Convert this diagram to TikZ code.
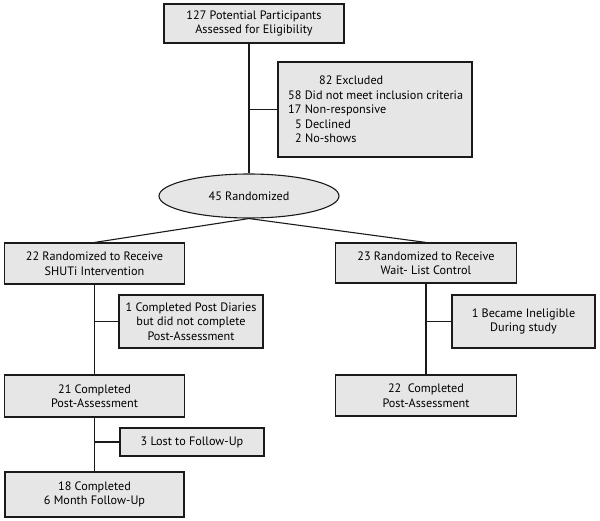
\documentclass[tikz,border=0pt]{standalone}
\usepackage{fontspec}
\setmainfont{PT Sans}
\usetikzlibrary{shapes.geometric}
\definecolor{boxfill}{HTML}{E6E6E6}
\definecolor{linec}{HTML}{1A1A1A}
\begin{document}
\begin{tikzpicture}[x=1pt,y=-1pt,
  every node/.style={font=\fontsize{12.2}{14.5}\selectfont, text=black},
  box/.style={draw=linec, line width=1.1pt, fill=boxfill, align=center, inner sep=0pt},
  conn/.style={draw=linec, line width=1.1pt}]
\useasboundingbox (0,0) rectangle (600,520);
\node[box, minimum width=180pt, minimum height=39pt] (top) at (254,23.5) {127 Potential Participants\\Assessed for Eligibility};
\node[box, minimum width=194pt, minimum height=95pt] (excl) at (375,109.5) {};
\node[align=left, inner sep=0pt, anchor=west] (excltext) at (288,109.5)
  {\hspace*{31pt}82 Excluded\\58 Did not meet inclusion criteria\\17 Non-responsive\\\hspace*{7pt}5 Declined\\\hspace*{7pt}2 No-shows};
\node[box, ellipse, minimum width=180pt, minimum height=44pt] (ell) at (249,196) {45 Randomized};
\node[box, minimum width=180pt, minimum height=41pt] (L1) at (94.5,263.5) {22 Randomized to Receive\\SHUTi Intervention};
\node[box, minimum width=181pt, minimum height=40pt] (R1) at (426,263) {23 Randomized to Receive\\Wait- List Control};
\node[box, minimum width=144pt, minimum height=53pt] (diar) at (191,321.5) {1 Completed Post Diaries\\but did not complete\\Post-Assessment};
\node[box, minimum width=143pt, minimum height=53pt] (inel) at (523.5,321.5) {1 Became Ineligible\\During study};
\node[box, minimum width=180pt, minimum height=42pt] (L2) at (94.5,396) {21 Completed\\Post-Assessment};
\node[box, minimum width=181pt, minimum height=41pt] (R2) at (426,395.5) {22\ \ Completed\\Post-Assessment};
\node[box, minimum width=144pt, minimum height=28pt] (lost) at (192,442) {3 Lost to Follow-Up};
\node[box, minimum width=179pt, minimum height=45pt] (L3) at (94.5,494.5) {18 Completed\\6 Month Follow-Up};
\coordinate (tc) at (ell.north);
\draw[conn] (top.south -| tc) -- (ell.north);
\draw[conn] (tc |- excl.west) -- (excl.west);
\draw[conn] (ell.south) -- (L1.north);
\draw[conn] (ell.south) -- (R1.north);
\draw[conn] (L1.south) -- (L2.north);
\draw[conn] (L1.south |- diar.west) -- (diar.west);
\draw[conn] (L2.south) -- (L3.north);
\draw[conn] (L2.south |- lost.west) -- (lost.west);
\draw[conn] (R1.south) -- (R2.north);
\draw[conn] (R1.south |- inel.west) -- (inel.west);
\end{tikzpicture}
\end{document}
